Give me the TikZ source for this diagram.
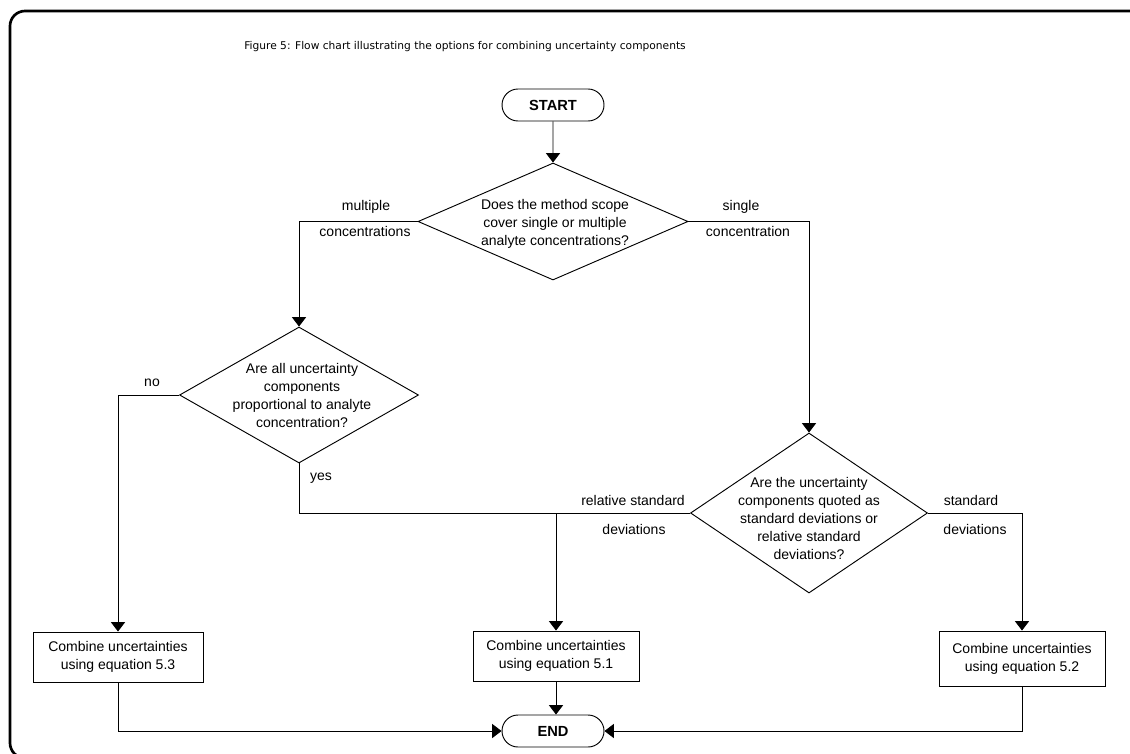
\documentclass[tikz,border=0pt]{standalone}
\usepackage{fontspec}
\setmainfont{Liberation Sans}
\newfontfamily\titlefont{DejaVu Sans}
\usetikzlibrary{shapes.geometric,shapes.misc,arrows.meta}
\begin{document}
\begin{tikzpicture}[x=0.75pt,y=-0.75pt,
  txt/.style={font=\fontsize{10.5}{13.5}\selectfont, align=center, inner sep=0pt},
  lbl/.style={font=\fontsize{10.5}{13}\selectfont, inner sep=0pt},
  dia/.style={draw, diamond, inner sep=0pt, line width=0.7pt},
  proc/.style={draw, rectangle, inner sep=0pt, line width=0.7pt, txt},
  term/.style={draw, rounded rectangle, inner sep=0pt, minimum width=76.5pt, minimum height=24pt, font=\bfseries\fontsize{11}{13}\selectfont, line width=0.7pt},
  conn/.style={line width=0.7pt},
  arr/.style={conn, -{Triangle[width=10.5pt,length=7pt]}},
  frame/.style={line width=2pt, rounded corners=11.25pt}
]
\useasboundingbox (0,0) rectangle (1130,753);
\clip (0,0) rectangle (1130,753);
\draw[frame] (1140,11) -- (10,11) -- (10,758) -- (1140,758);

\node[font=\titlefont\fontsize{8}{10}\selectfont, inner sep=0pt] (title) at (465,47) {Figure 5: Flow chart illustrating the options for combining uncertainty components};

\node[term] (start) at (553,105) {START};
\node[dia, minimum width=202.5pt, minimum height=87.75pt] (d1) at (553,221.5) {};
\node[txt] (d1t) at (555,224) {Does the method scope\\cover single or multiple\\analyte concentrations?};

\node[dia, minimum width=179.25pt, minimum height=102pt] (d2) at (299,395) {};
\node[txt] (d2t) at (302,395.5) {Are all uncertainty\\components\\proportional to analyte\\concentration?};

\node[dia, minimum width=177.75pt, minimum height=120pt] (d3) at (809,513) {};
\node[txt] (d3t) at (809,518.5) {Are the uncertainty\\components quoted as\\standard deviations or\\relative standard\\deviations?};

\node[proc, minimum width=127.5pt, minimum height=37.5pt] (b53) at (118,657) {Combine uncertainties\\using equation 5.3};
\node[proc, minimum width=124.5pt, minimum height=37.5pt] (b51) at (556,656) {Combine uncertainties\\using equation 5.1};
\node[proc, minimum width=124.5pt, minimum height=41.25pt] (b52) at (1022,658.5) {Combine uncertainties\\using equation 5.2};

\node[term] (end) at (553,731) {END};

\coordinate (j) at (556,513);

\draw[arr] (start) -- (d1);
\draw[arr] (d1.west) -| (d2.north);
\draw[arr] (d1.east) -| (d3.north);
\draw[arr] (d2.west) -| (b53.north);
\draw[conn] (d2.south) |- (j);
\draw[arr] (d3.west) -| (b51.north);
\draw[arr] (d3.east) -| (b52.north);
\draw[arr] (b51.south) -- (b51.south |- end.north);
\draw[arr] (b53.south) |- (end.west);
\draw[arr] (b52.south) |- (end.east);

\node[lbl] (lmul) at (366,207) {multiple};
\node[lbl] (lcons) at (365,231) {concentrations};
\node[lbl] (lsin) at (741,207) {single};
\node[lbl] (lcon) at (748,231) {concentration};
\node[lbl] (lno) at (152,383) {no};
\node[lbl] (lyes) at (321,478) {yes};
\node[lbl] (lrel) at (633,500) {relative standard};
\node[lbl] (ldev1) at (634,529) {deviations};
\node[lbl] (lstd) at (971,500) {standard};
\node[lbl] (ldev2) at (975,529) {deviations};
\end{tikzpicture}
\end{document}
